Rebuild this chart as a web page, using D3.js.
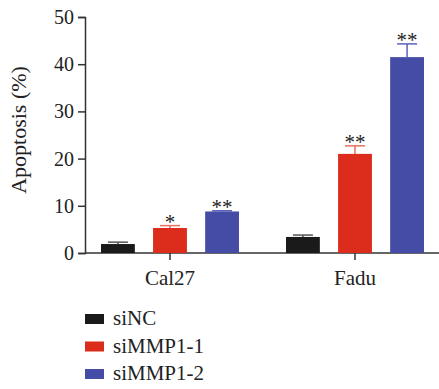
<!DOCTYPE html>
<meta charset="utf-8">
<style>
body { margin: 0; background: #fff; }
text { font-family: "Liberation Serif", "DejaVu Serif", serif; fill: #222; }
</style>
<svg id="chart" width="439" height="389"></svg>
<script src="https://cdn.jsdelivr.net/npm/d3@7"></script>
<script>

var cellLines = ["Cal27", "Fadu"];
var groups = ["siNC", "siMMP1-1", "siMMP1-2"];
var colors = ["#1a1a1a", "#dc2c1c", "#454ca6"];
var errColors = ["#555555", "#e8705f", "#5a63bd"];
// mean values per group, for Cal27 and Fadu
var means = [[1.9, 3.4], [5.3, 21.0], [8.8, 41.5]];
var errs = [[0.4, 0.4], [0.5, 1.7], [0.15, 2.8]];
var stars = [["", ""], ["*", "**"], ["**", "**"]];
var yTicks = [0, 10, 20, 30, 40, 50];

var svg = d3.select("#chart");

var x0 = d3.scalePoint().domain(cellLines).range([170, 355]);
var x1 = d3.scaleBand().domain(groups).range([-69, 69]).paddingInner(0.35);
var y = d3.scaleLinear().domain([0, 50]).range([253, 17]);

var axisColor = "#333";

// y axis
var yAxis = svg.append("g")
    .attr("transform", "translate(85,0)")
    .call(d3.axisLeft(y).tickValues(yTicks).tickSize(7).tickPadding(4));
yAxis.select(".domain").attr("stroke", axisColor).attr("stroke-width", 1.5);
yAxis.selectAll(".tick line").attr("stroke", axisColor).attr("stroke-width", 1.5);
yAxis.selectAll(".tick text")
    .style("font-family", "Liberation Serif, serif")
    .style("font-size", "20px").attr("fill", "#222");

// x axis line
svg.append("line")
    .attr("x1", 85).attr("x2", 439)
    .attr("y1", y(0)).attr("y2", y(0))
    .attr("stroke", axisColor).attr("stroke-width", 1.5);

cellLines.forEach(function(c, j) {
  svg.append("line")
      .attr("x1", x0(c)).attr("x2", x0(c))
      .attr("y1", y(0)).attr("y2", y(0) + 7)
      .attr("stroke", axisColor).attr("stroke-width", 1.5);
  svg.append("text")
      .attr("x", x0(c)).attr("y", y(0) + 32)
      .attr("text-anchor", "middle")
      .style("font-size", "21px")
      .text(c);
});

// bars
groups.forEach(function(g, i) {
  cellLines.forEach(function(c, j) {
    var bx = x0(c) + x1(g);
    var bw = x1.bandwidth();
    var v = means[i][j], e = errs[i][j];
    var cx = bx + bw / 2;
    svg.append("line")
        .attr("x1", cx).attr("x2", cx)
        .attr("y1", y(v)).attr("y2", y(v + e))
        .attr("stroke", errColors[i]).attr("stroke-width", 1.5);
    svg.append("line")
        .attr("x1", cx - 10).attr("x2", cx + 10)
        .attr("y1", y(v + e)).attr("y2", y(v + e))
        .attr("stroke", errColors[i]).attr("stroke-width", 1.5);
    svg.append("rect")
        .attr("x", bx).attr("y", y(v))
        .attr("width", bw).attr("height", y(0) - y(v))
        .attr("fill", colors[i]);
    if (stars[i][j]) {
      svg.append("text")
          .attr("x", cx).attr("y", y(v + e) + 3)
          .attr("text-anchor", "middle")
          .style("font-size", "21px")
          .attr("fill", "#444")
          .text(stars[i][j]);
    }
  });
});

// y label
svg.append("text")
    .attr("transform", "translate(26,130) rotate(-90)")
    .attr("text-anchor", "middle")
    .style("font-size", "22px")
    .text("Apoptosis (%)");

// legend
groups.forEach(function(g, i) {
  var ly = 319 + i * 27.5;
  svg.append("rect")
      .attr("x", 85).attr("y", ly - 5)
      .attr("width", 19).attr("height", 10)
      .attr("fill", colors[i]);
  svg.append("text")
      .attr("x", 113).attr("y", ly + 6)
      .style("font-size", "21px")
      .text(g);
});

</script>
